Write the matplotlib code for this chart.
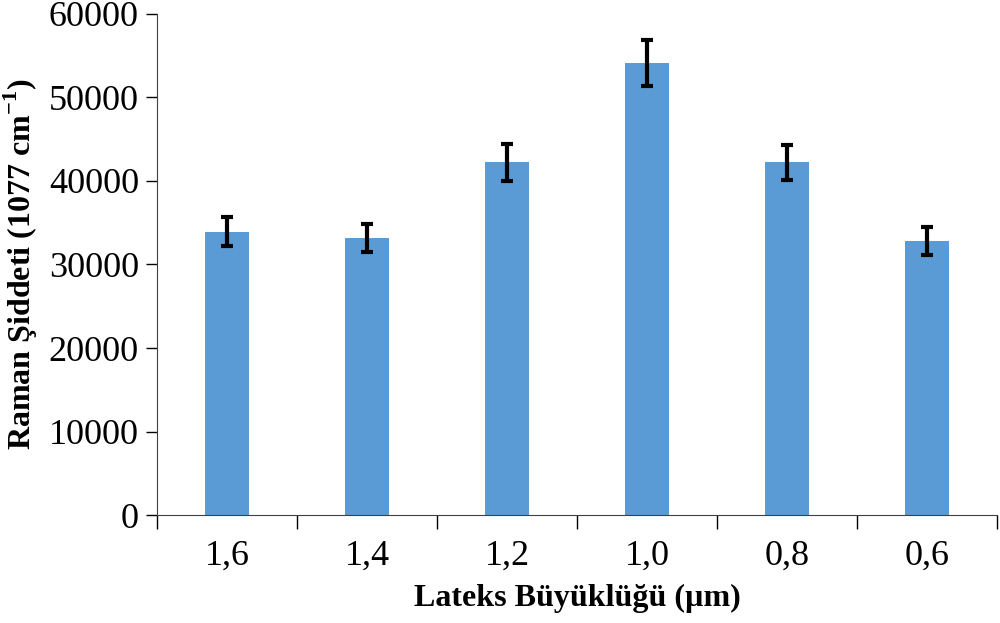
import numpy as np
import matplotlib
matplotlib.use("Agg")
import matplotlib.pyplot as plt

# ─── data ────────────────────────────────────────────────────────────────────
sizes   = ["1,6", "1,4", "1,2", "1,0", "0,8", "0,6"]
raman   = [33900, 33200, 42200, 54100, 42200, 32800]
raman_e = [1750, 1700, 2200, 2700, 2100, 1700]

plt.rcParams['font.family'] = ['Liberation Serif', 'DejaVu Serif']
plt.rcParams['mathtext.fontset'] = 'custom'
plt.rcParams['mathtext.rm'] = 'Liberation Serif'

fig = plt.figure(figsize=(10, 6.23), dpi=100)
ax = fig.add_axes([0.157, 0.173, 0.84, 0.805])

x = np.arange(len(sizes))
ax.bar(x, raman, width=0.32, color="#5B9BD5", zorder=2)
ax.errorbar(x, raman, yerr=raman_e, fmt="none", ecolor="black",
            elinewidth=3, capsize=4.5, capthick=3, zorder=3)

ax.set_xlim(-0.5, len(sizes) - 0.5)
ax.set_ylim(0, 60000)
ax.set_yticks(np.arange(0, 60001, 10000))
ax.set_xticks(x)
ax.set_xticklabels(sizes)
ax.set_xticks(np.arange(-0.5, len(sizes), 1.0), minor=True)
ax.tick_params(axis="x", which="major", length=0, pad=18, labelsize=26)
ax.tick_params(axis="x", which="minor", length=10, width=1, direction="out")
ax.tick_params(axis="y", length=8, width=1, direction="out", labelsize=26, pad=5)

for s in ["top", "right"]:
    ax.spines[s].set_visible(False)
for s in ["left", "bottom"]:
    ax.spines[s].set_color("#404040")

ax.set_ylabel("Raman Şiddeti (1077 cm$^{\\mathregular{-1}}$)", fontsize=23,
              fontweight="bold", labelpad=6)
ax.set_xlabel("Lateks Büyüklüğü (µm)", fontsize=23, fontweight="bold",
              labelpad=8)

plt.savefig("out.png", dpi=100)
